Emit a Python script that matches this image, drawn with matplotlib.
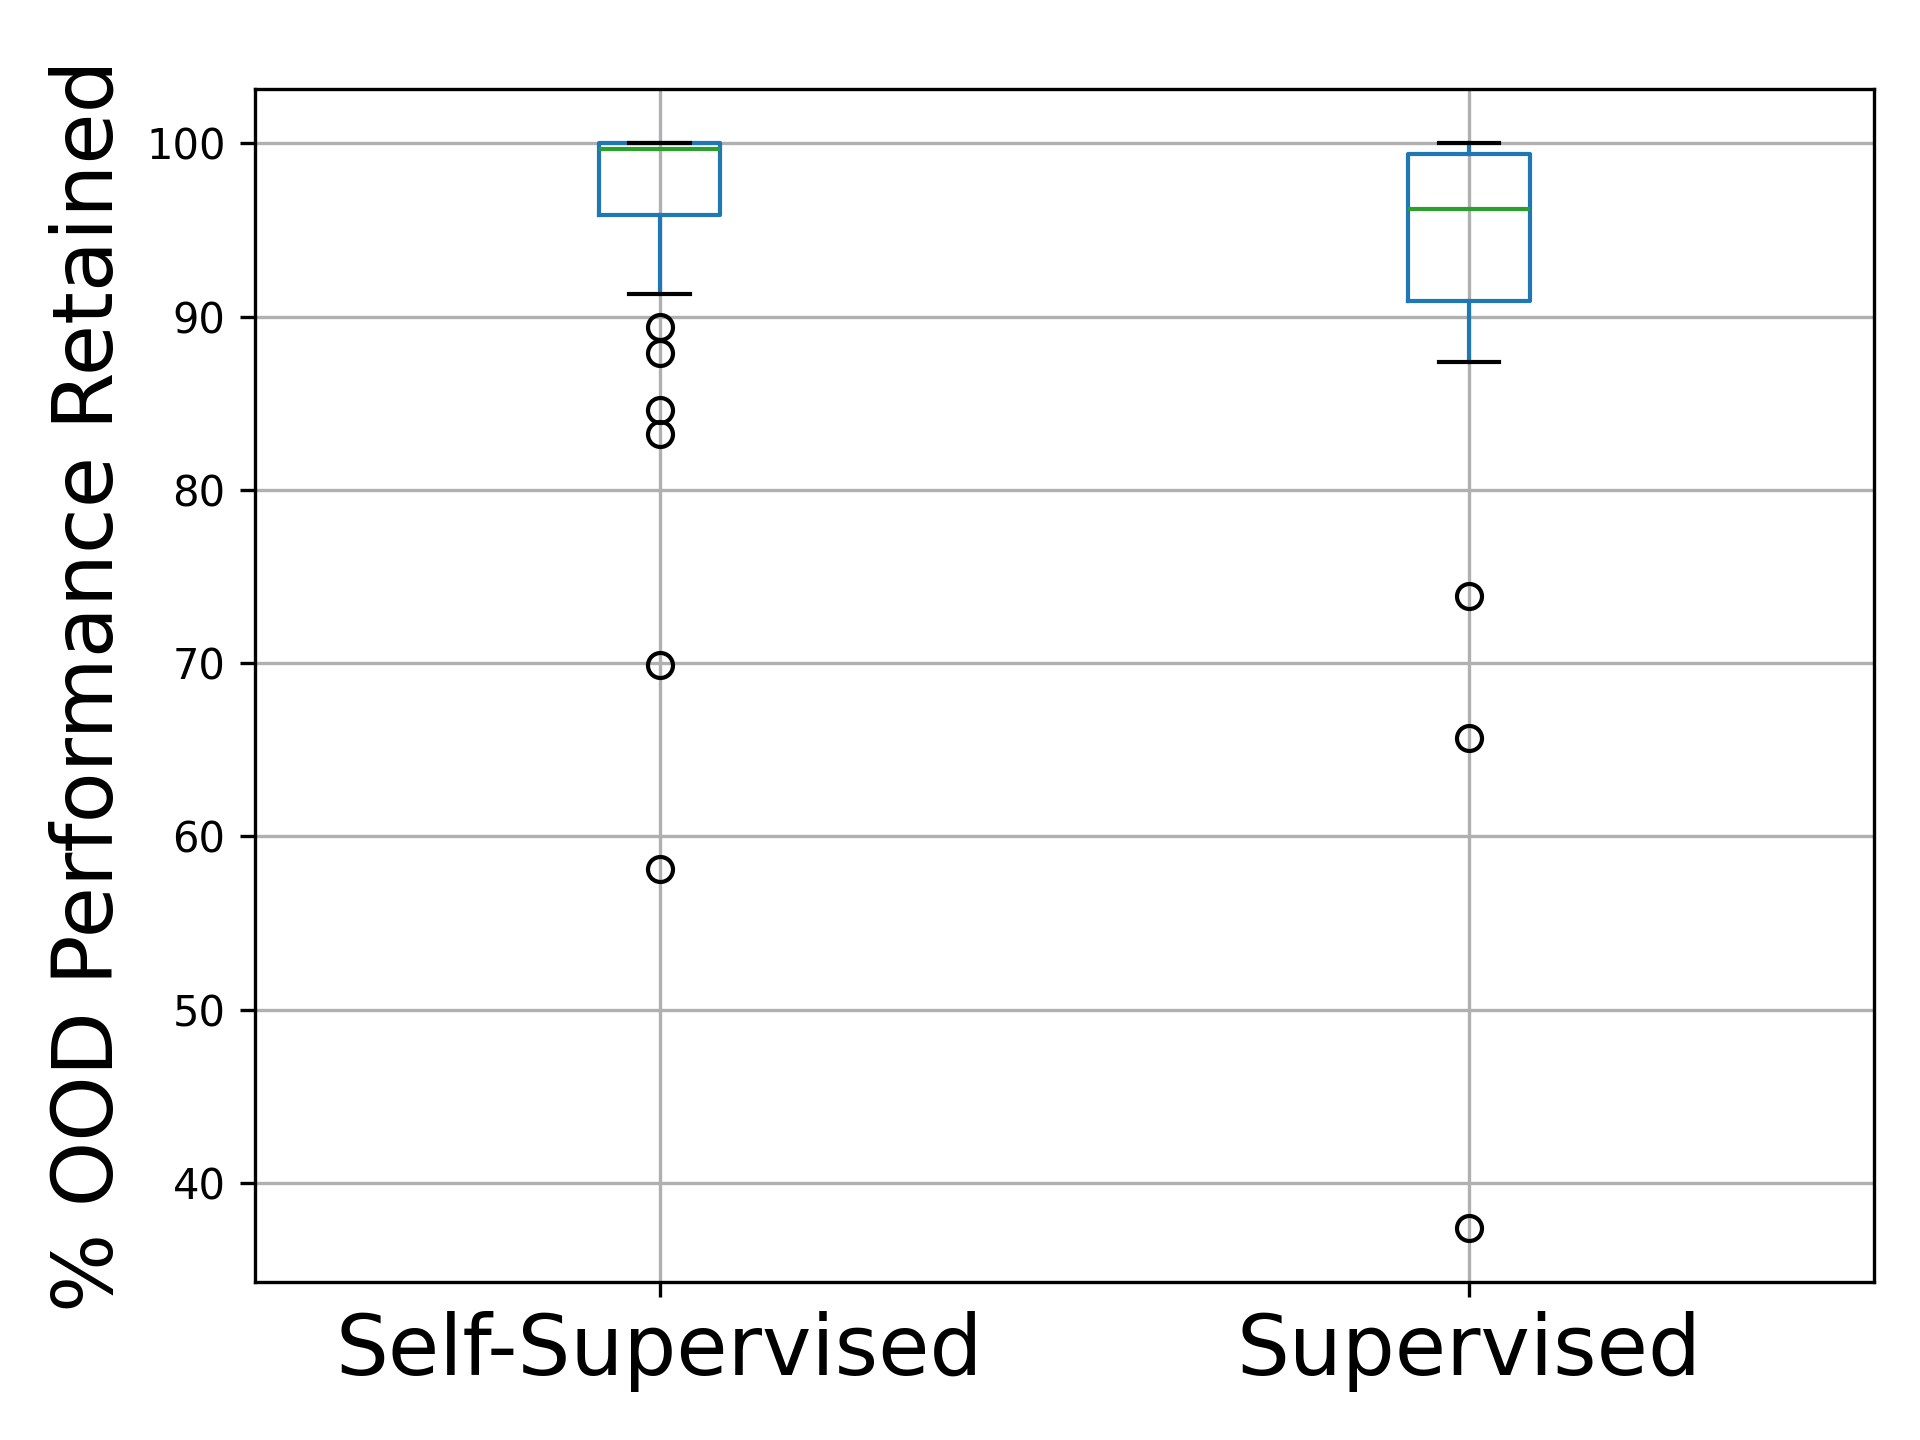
import matplotlib
matplotlib.use("Agg")
import matplotlib.pyplot as plt

# Valores (estadísticas de cada caja)
grupos = ["Self-Supervised", "Supervised"]
medianas = [99.7, 96.2]
q1 = [95.9, 90.9]
q3 = [100.0, 99.4]
bigote_inf = [91.3, 87.4]
bigote_sup = [100.0, 100.0]
atipicos = [
    [89.4, 87.9, 84.6, 83.2, 69.9, 58.1],
    [73.9, 65.7, 37.4],
]

stats = []
for i, nombre in enumerate(grupos):
    stats.append({
        "label": nombre,
        "med": medianas[i],
        "q1": q1[i],
        "q3": q3[i],
        "whislo": bigote_inf[i],
        "whishi": bigote_sup[i],
        "fliers": atipicos[i],
    })

fig = plt.figure(figsize=(6.4, 4.8), dpi=300)
ax = fig.add_axes([0.1327, 0.1097, 0.976 - 0.1327, 0.938 - 0.1097])

ax.grid(True)
ax.set_axisbelow(True)

ax.bxp(stats,
       boxprops=dict(color="C0"),
       whiskerprops=dict(color="C0"),
       medianprops=dict(color="C2"),
       capprops=dict(color="k"),
       flierprops=dict(markeredgecolor="k"))

ax.set_ylabel("% OOD Performance Retained", fontsize=20)
ax.tick_params(axis="x", labelsize=20)
ax.tick_params(axis="y", labelsize=10)

fig.savefig("out.png", dpi=300)
